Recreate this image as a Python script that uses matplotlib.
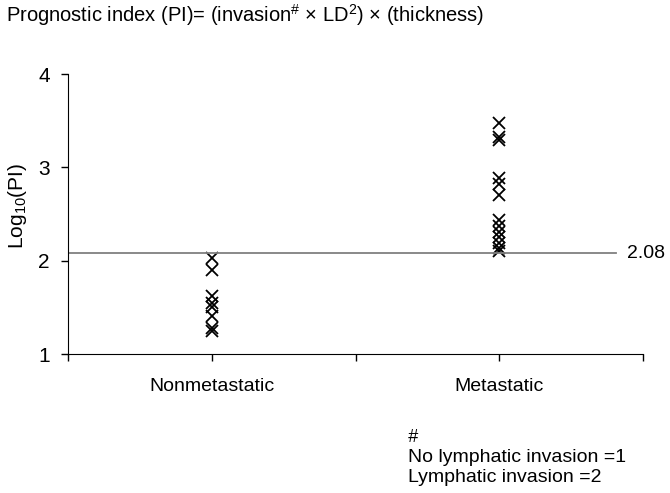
import matplotlib
matplotlib.use("Agg")
import matplotlib.pyplot as plt

plt.rcParams['font.family'] = ['Liberation Sans', 'DejaVu Sans']
plt.rcParams['mathtext.fontset'] = 'custom'
plt.rcParams['mathtext.rm'] = 'Liberation Sans'
plt.rcParams['mathtext.default'] = 'regular'

# data
groups = ['Nonmetastatic', 'Metastatic']
group_pos = [0.5, 1.5]
nonmetastatic = [2.03, 1.90, 1.62, 1.55, 1.50, 1.41, 1.28, 1.25]
metastatic = [3.47, 3.33, 3.29, 2.89, 2.82, 2.70, 2.44, 2.37, 2.31, 2.25, 2.19, 2.14, 2.10]
cutoff = 2.08

fig = plt.figure(figsize=(6.7, 4.93), dpi=100)
ax = fig.add_axes([68 / 670, 1 - 354 / 493, 575 / 670, 280 / 493])

for x, vals in zip(group_pos, [nonmetastatic, metastatic]):
    ax.plot([x] * len(vals), vals, linestyle='none', marker='x',
            color='black', markersize=8, markeredgewidth=1.3)

ax.plot([0, 1.905], [cutoff, cutoff], color='#808080', linewidth=1.3)
ax.text(1.945, cutoff, '2.08', fontsize=14, va='center', ha='left')

ax.set_xlim(0, 2)
ax.set_ylim(1, 4)
ax.set_yticks([1, 2, 3, 4])
ax.set_xticks([0, 0.5, 1, 1.5, 2])
ax.set_xticklabels(['', groups[0], '', groups[1], ''])
ax.tick_params(axis='both', labelsize=15, length=5, width=1, direction='out')
ax.tick_params(axis='x', labelsize=14, pad=12)
ax.tick_params(axis='y', pad=8)
for s in ['top', 'right']:
    ax.spines[s].set_visible(False)
ax.set_ylabel('Log$_{10}$(PI)', fontsize=15)
ax.yaxis.set_label_coords(-0.068, 0.53)

fig.text(6 / 670, 1 - 15 / 493,
         'Prognostic index (PI)= (invasion$^{\\#}$ \u00d7 LD$^{2}$) \u00d7 (thickness)',
         fontsize=14.5, va='center', ha='left')
fig.text(408 / 670, 1 - 438 / 493, '#', fontsize=13, va='center', ha='left', style='italic')
fig.text(408 / 670, 1 - 458 / 493, 'No lymphatic invasion =1', fontsize=14, va='center', ha='left')
fig.text(408 / 670, 1 - 478 / 493, 'Lymphatic invasion =2', fontsize=14, va='center', ha='left')

fig.savefig('out.png', dpi=100)
